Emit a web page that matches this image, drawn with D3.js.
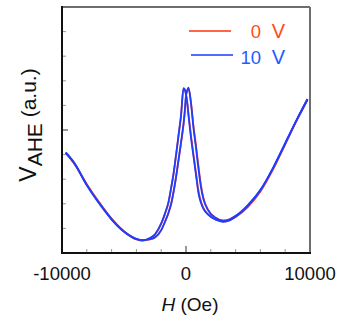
<!DOCTYPE html>
<html>
<head>
<meta charset="utf-8">
<script src="https://cdn.jsdelivr.net/npm/d3@7"></script>
<style>
  body { margin: 0; background: #fff; }
  svg { display: block; font-family: Arial, "Liberation Sans", sans-serif; }
</style>
</head>
<body>
<div id="chart"></div>
<script>
// field (Oe), shared by all branches
const field = [-9700, -9000, -8000, -7000, -6000, -5000, -4000, -3500, -3000, -2500,
  -2000, -1700, -1400, -1200, -1000, -800, -600, -400, -200, -100,
  0, 100, 200, 400, 600, 800, 1000, 1200, 1400, 1800,
  2400, 3000, 3500, 4000, 5000, 6000, 7000, 8000, 9000, 9800];

// 10 V, sweep down (peak on negative side)
const v10Down = [4.07, 3.64, 2.75, 2.01, 1.36, 0.86, 0.56, 0.51, 0.59, 0.76,
  1.20, 1.60, 2.10, 2.65, 3.25, 4.00, 4.80, 5.60, 6.70, 6.65,
  6.45, 6.10, 5.60, 4.70, 3.95, 3.20, 2.45, 2.05, 1.80, 1.55,
  1.35, 1.27, 1.32, 1.47, 1.92, 2.54, 3.44, 4.47, 5.49, 6.26];
// 10 V, sweep up (peak on positive side)
const v10Up = [4.09, 3.66, 2.77, 2.03, 1.38, 0.88, 0.58, 0.52, 0.55, 0.64,
  0.93, 1.27, 1.66, 2.00, 2.50, 3.10, 3.80, 4.50, 5.25, 5.75,
  6.40, 6.62, 6.72, 6.10, 5.10, 4.30, 3.45, 2.70, 2.20, 1.72,
  1.42, 1.31, 1.36, 1.51, 1.96, 2.57, 3.43, 4.45, 5.47, 6.24];

// 0 V branches (mostly hidden under the 10 V curves)
const v0Down = [4.06, 3.62, 2.79, 2.05, 1.38, 0.87, 0.55, 0.50, 0.58, 0.75,
  1.18, 1.58, 2.08, 2.63, 3.22, 3.98, 4.78, 5.58, 6.68, 6.64,
  6.44, 6.12, 5.65, 4.78, 4.02, 3.28, 2.55, 2.10, 1.83, 1.57,
  1.36, 1.28, 1.33, 1.46, 1.88, 2.50, 3.38, 4.42, 5.47, 6.25];
const v0Up = [4.08, 3.64, 2.80, 2.06, 1.40, 0.89, 0.57, 0.51, 0.54, 0.63,
  0.92, 1.25, 1.64, 1.98, 2.48, 3.08, 3.78, 4.48, 5.23, 5.73,
  6.38, 6.60, 6.70, 6.12, 5.18, 4.40, 3.55, 2.78, 2.25, 1.74,
  1.43, 1.32, 1.37, 1.50, 1.90, 2.52, 3.40, 4.43, 5.46, 6.23];

const xTickLabels = [-10000, 0, 10000];
const xMinorTicks = [-8000, -6000, -4000, -2000, 2000, 4000, 6000, 8000];
const yMinorTicks = [1, 2, 3, 4, 6, 7, 8, 9];
const yMajorTicks = [5];

const legendItems = [
  { label: '0 V', line: '#ff6547', text: '#ff4d14' },
  { label: '10 V', line: '#4f6cff', text: '#1f5cff' },
];

const width = 339, height = 320;
const margin = { top: 7, right: 29, bottom: 67, left: 62 };

const svg = d3.select('#chart').append('svg')
  .attr('width', width)
  .attr('height', height);

const x = d3.scaleLinear().domain([-10000, 10000]).range([margin.left, width - margin.right]);
const y = d3.scaleLinear().domain([0, 10]).range([height - margin.bottom, margin.top]);

const x0 = x.range()[0], x1 = x.range()[1];
const y0 = y.range()[0], y1 = y.range()[1];

// ticks (pointing inward)
svg.append('g').selectAll('line.ym')
  .data(yMinorTicks).enter().append('line')
  .attr('x1', x0).attr('x2', x0 + 4)
  .attr('y1', d => y(d)).attr('y2', d => y(d))
  .attr('stroke', '#999').attr('stroke-width', 1);
svg.append('g').selectAll('line.yM')
  .data(yMajorTicks).enter().append('line')
  .attr('x1', x0).attr('x2', x0 + 6)
  .attr('y1', d => y(d)).attr('y2', d => y(d))
  .attr('stroke', '#333').attr('stroke-width', 1);
svg.append('g').selectAll('line.xm')
  .data(xMinorTicks).enter().append('line')
  .attr('x1', d => x(d)).attr('x2', d => x(d))
  .attr('y1', y0).attr('y2', y0 - 4)
  .attr('stroke', '#999').attr('stroke-width', 1);
svg.append('line')
  .attr('x1', x(0)).attr('x2', x(0))
  .attr('y1', y0).attr('y2', y0 - 7)
  .attr('stroke', '#333').attr('stroke-width', 1);

// curves: red first, blue on top
const line = (vals) => d3.line()
  .x((d, i) => x(field[i]))
  .y(d => y(d))
  .curve(d3.curveMonotoneX)(vals);

const series = [
  { vals: v0Down, color: '#ff4a30' },
  { vals: v0Up, color: '#ff4a30' },
  { vals: v10Down, color: '#1e3dff' },
  { vals: v10Up, color: '#1e3dff' },
];
svg.append('g').selectAll('path')
  .data(series).enter().append('path')
  .attr('d', d => line(d.vals))
  .attr('fill', 'none')
  .attr('stroke', d => d.color)
  .attr('stroke-width', 1.8)
  .attr('stroke-linejoin', 'round');

// frame: top/right gray, left/bottom black
svg.append('line').attr('x1', x0).attr('x2', x1).attr('y1', y1).attr('y2', y1)
  .attr('stroke', '#6e6e6e').attr('stroke-width', 2);
svg.append('line').attr('x1', x1).attr('x2', x1).attr('y1', y1).attr('y2', y0)
  .attr('stroke', '#6e6e6e').attr('stroke-width', 2);
svg.append('line').attr('x1', x0).attr('x2', x0).attr('y1', y1 - 1).attr('y2', y0 + 1)
  .attr('stroke', '#111').attr('stroke-width', 2);
svg.append('line').attr('x1', x0 - 1).attr('x2', x1 + 1).attr('y1', y0).attr('y2', y0)
  .attr('stroke', '#111').attr('stroke-width', 2);

// x tick labels
svg.append('g').selectAll('text')
  .data(xTickLabels).enter().append('text')
  .attr('x', d => x(d))
  .attr('y', 280)
  .attr('text-anchor', 'middle')
  .style('font-size', '18.5px')
  .attr('fill', '#111')
  .text(d => d);

// x title
const xt = svg.append('text')
  .attr('x', 190).attr('y', 311)
  .attr('text-anchor', 'middle')
  .style('font-size', '19px')
  .attr('fill', '#111');
xt.append('tspan').style('font-style', 'italic').text('H');
xt.append('tspan').text(' (Oe)');

// y title
const yt = svg.append('text')
  .attr('transform', 'translate(36,125) rotate(-90)')
  .attr('text-anchor', 'middle')
  .style('font-size', '21px')
  .attr('fill', '#111');
yt.append('tspan').style('font-size', '23px').text('V');
yt.append('tspan').attr('dy', 6).text('AHE');
yt.append('tspan').attr('dy', -6).text(' (a.u.)');

// legend: number and unit placed in columns so the zeros line up
const legend = svg.append('g');
legendItems.forEach((d, i) => {
  const ly = 31 + i * 24;
  const [num, unit] = d.label.split(' ');
  legend.append('line')
    .attr('x1', 189 + i * 2).attr('x2', 231 + i * 2)
    .attr('y1', ly).attr('y2', ly)
    .attr('stroke', d.line).attr('stroke-width', 2);
  const t = legend.append('g')
    .attr('fill', d.text);
  t.append('text')
    .attr('x', 261).attr('y', ly + 6.5 + i * 2)
    .attr('text-anchor', 'end')
    .style('font-size', '18.5px')
    .text(num);
  t.append('text')
    .attr('x', 285).attr('y', ly + 6.5 + i * 2)
    .attr('text-anchor', 'end')
    .style('font-size', '20px')
    .text(unit);
});
</script>
</body>
</html>
